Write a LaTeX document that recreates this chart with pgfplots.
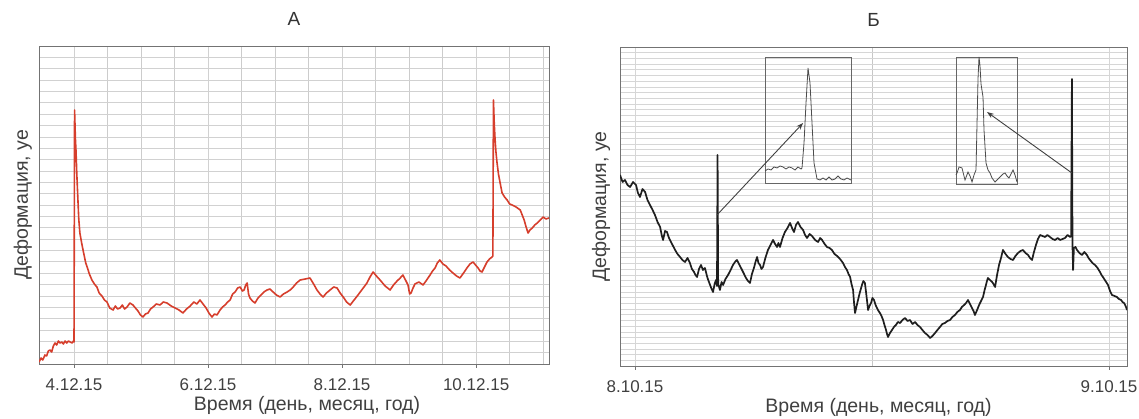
\documentclass[border=0pt]{standalone}
\usepackage{pgfplots}
\pgfplotsset{compat=1.18}
\usepackage{fontspec}
\setmainfont{Liberation Sans}
\usetikzlibrary{arrows.meta}
\definecolor{redline}{RGB}{214,62,44}
\definecolor{inkline}{RGB}{30,30,30}

\pgfplotstableread{
h y
-12.5 2
-11.8 6
-11.2 4
-10.4 9
-9.8 8
-9.2 13
-8.6 14
-8.0 12
-7.4 18
-6.8 21
-6.2 19
-5.6 23
-5.0 21
-4.4 22
-3.8 20
-3.2 23
-2.6 21
-2.0 23
-1.4 22
-0.7 21
-0.2 23
0.0 22
0.2 254
0.5 225
0.7 214
1.0 190
1.4 164
1.7 145
2.1 131
2.8 120
3.6 109
4.2 101
4.7 97
5.5 90
6.4 84
7.3 80
8.2 77
9.0 71
10.0 68
10.9 64
11.8 62
12.8 56
14.0 54
14.8 58
15.6 55
16.5 56
17.3 59
18.1 55
19.0 57
20.0 61
21.1 59
22.0 56
22.9 53
23.8 49
24.7 47
25.6 50
26.5 51
27.4 55
28.3 57
29.5 60
30.8 59
32.0 62
33.3 61
34.8 58
36.2 56
37.6 54
39.0 51
40.3 55
41.6 58
42.9 62
44.0 60
45.1 64
46.2 60
47.3 56
48.3 51
49.4 47
50.3 50
51.2 49
52.3 54
53.2 57
54.1 59
55.0 62
55.9 64
56.8 70
57.7 72
58.6 76
59.5 77
60.3 73
60.9 74
61.5 79
62.0 81
62.5 70
63.0 66
63.9 63
64.8 61
65.9 66
67.0 69
68.0 72
69.1 74
70.2 75
71.3 72
72.5 69
73.8 67
75.0 70
76.3 72
77.4 74
78.5 77
79.7 81
81.0 84
82.8 85
84.5 86
85.8 80
87.0 74
88.1 70
89.2 67
90.4 71
91.7 74
93.0 77
94.2 76
95.3 71
96.4 67
97.6 62
98.9 59
100.3 64
101.7 69
103.3 75
104.9 81
106.0 87
107.1 92
108.3 88
109.6 84
111.4 78
113.2 74
114.4 79
115.7 83
116.8 86
117.8 89
118.7 84
119.6 79
120.2 70
120.7 71
121.4 76
122.1 80
123.5 82
125.0 79
126.3 84
127.5 89
128.4 93
129.3 96
130.1 101
131.0 104
132.1 100
133.2 98
134.5 94
135.7 91
137.0 88
138.2 86
139.5 91
140.7 96
141.8 100
142.9 102
143.8 99
144.7 96
145.4 93
146.1 92
147.0 97
147.9 102
148.8 105
149.7 107
150.0 108
150.2 264
150.5 240
150.8 224
151.1 212
151.5 201
152.0 190
152.6 181
153.3 171
154.2 167
155.1 164
156.0 160
156.9 159
158.3 157
159.8 154
160.5 149
161.2 144
161.9 137
162.6 131
163.3 134
164.1 136
165.0 139
165.9 141
167.0 144
168.0 147
169.0 145
170.1 146
}\dataA

\pgfplotstableread{
h y
-0.76 191
-0.63 184
-0.51 186
-0.38 181
-0.25 179
-0.10 184
0.05 181
0.15 173
0.25 169
0.38 177
0.51 174
0.63 166
0.76 161
0.89 156
1.01 151
1.14 144
1.27 139
1.35 131
1.42 126
1.52 135
1.62 134
1.70 129
1.77 126
1.90 121
2.03 116
2.15 112
2.28 109
2.40 106
2.53 104
2.66 108
2.78 103
2.88 97
2.99 94
3.06 91
3.14 89
3.24 97
3.34 101
3.44 96
3.54 98
3.67 88
3.80 81
3.88 77
3.95 74
4.03 82
4.10 86
4.15 80
4.18 211
4.21 82
4.30 76
4.38 84
4.46 81
4.58 87
4.71 91
4.84 96
4.96 101
5.06 104
5.16 106
5.29 101
5.42 96
5.52 92
5.62 88
5.72 85
5.82 83
5.92 92
6.02 98
6.10 104
6.18 109
6.25 103
6.33 101
6.40 97
6.48 99
6.60 108
6.73 116
6.86 121
6.99 126
7.09 122
7.19 119
7.26 123
7.34 119
7.47 128
7.59 134
7.72 138
7.85 143
7.95 138
8.05 134
8.15 141
8.25 144
8.38 139
8.51 136
8.61 131
8.71 128
8.84 132
8.96 130
9.12 126
9.27 124
9.37 128
9.47 126
9.60 122
9.72 119
9.85 118
9.97 116
10.10 112
10.23 110
10.38 107
10.53 103
10.63 99
10.73 96
10.81 92
10.89 89
10.96 82
11.04 76
11.09 63
11.14 53
11.22 60
11.29 66
11.39 74
11.49 81
11.56 85
11.64 83
11.72 70
11.80 56
11.87 60
11.95 63
12.02 68
12.10 66
12.18 61
12.25 58
12.33 55
12.40 53
12.48 50
12.56 46
12.63 41
12.71 36
12.76 32
12.81 29
12.91 33
13.01 36
13.11 39
13.21 41
13.31 44
13.42 43
13.54 46
13.67 48
13.80 45
13.92 46
14.05 42
14.18 44
14.30 41
14.43 39
14.55 36
14.68 33
14.81 31
14.94 28
15.06 30
15.19 33
15.31 36
15.44 39
15.56 42
15.69 43
15.82 45
15.95 46
16.07 49
16.20 51
16.32 54
16.45 56
16.55 59
16.66 61
16.76 63
16.86 66
16.96 62
17.06 58
17.14 55
17.21 51
17.32 56
17.42 61
17.52 65
17.62 69
17.70 76
17.77 81
17.82 85
17.87 88
17.97 86
18.08 84
18.15 82
18.23 79
18.33 91
18.43 101
18.53 108
18.63 116
18.76 112
18.88 109
19.01 107
19.14 106
19.26 110
19.39 113
19.52 115
19.64 116
19.77 113
19.90 111
20.00 108
20.10 106
20.20 114
20.30 121
20.40 127
20.51 131
20.63 130
20.76 129
20.88 131
21.01 129
21.14 127
21.27 126
21.40 128
21.52 126
21.65 127
21.77 128
21.90 131
22.03 129
22.08 130
22.12 287
22.15 120
22.18 96
22.22 118
22.30 119
22.38 116
22.50 113
22.63 111
22.75 114
22.88 111
22.96 108
23.04 106
23.16 103
23.29 101
23.42 98
23.54 94
23.62 91
23.69 89
23.82 85
23.95 81
24.05 75
24.15 71
24.28 70
24.40 69
24.50 67
24.61 66
24.68 64
24.76 63
24.84 60
24.91 56
}\dataB

\pgfplotstableread{
x y
0 12
3 14
6 13
9 16
12 15
15 17
18 16
21 14
24 16
27 15
30 13
33 16
36 14
37 15
39 40
41 80
43 115
45 100
47 60
49 20
52 4
55 3
58 5
61 3
64 6
67 3
70 4
73 7
76 4
79 3
82 5
86 3
}\insetA

\pgfplotstableread{
x y
0 9
1 11
3 17
6 16
9 4
12 12
14 8
16 2
18 9
20 14
21 60
22 105
23 127
24 118
25 100
27 87
28 54
30 21
32 14
34 11
36 6
39 2
42 5
44 7
47 10
49 11
51 8
53 6
55 10
57 14
59 9
61 2
}\insetB

\pgfplotsset{
  panel/.style={
    scale only axis, anchor=south west,
    axis line style={black!55, line width=0.9pt},
    tick align=outside, xtick pos=bottom, ytick pos=left,
    major tick length=4pt, minor tick length=0pt,
    tick style={black!55, line width=0.8pt},
    ytick style={draw=none},
    yticklabels={},
    grid=both,
    xticklabel style={font=\fontsize{17}{20}\selectfont, text=black!75, anchor=base, yshift=-23pt},
    xlabel style={font=\fontsize{19.5}{23}\selectfont, text=black!75, anchor=base},
    ylabel style={font=\fontsize{19.5}{23}\selectfont, text=black!75, anchor=base},
    title style={font=\fontsize{19}{22}\selectfont, text=black!80, anchor=base},
    xlabel={Время (день, месяц, год)},
    ylabel={Деформация, уе},
    clip=true,
  },
  insetax/.style={
    scale only axis, anchor=south west,
    axis line style={black!60, line width=0.9pt},
    xtick=\empty, ytick=\empty,
    clip=false,
  }
}

\begin{document}
\begin{tikzpicture}
\path[use as bounding box] (0pt,0pt) rectangle (1139pt,419pt);

% ---------- Panel A ----------
\begin{axis}[panel,
  at={(39pt,55pt)}, width=510pt, height=318pt,
  xmin=-12.54, xmax=170.1, ymin=0, ymax=318,
  xtick={0,48,96,144},
  xticklabels={4.12.15,6.12.15,8.12.15,10.12.15},
  minor xtick={12,24,36,60,72,84,108,120,132,156,168},
  ytick distance=11.357,
  major grid style={black!18, line width=0.7pt},
  minor grid style={black!20, line width=0.7pt},
  title={А},
  title style={at={(axis description cs:0.5,1)}, yshift=14pt},
  xlabel style={at={(axis description cs:0.5,0)}, yshift=-46.5pt, xshift=13pt},
  ylabel style={at={(axis description cs:0,0.5)}, yshift=11pt},
]
\addplot[redline, line width=1.6pt, line join=round] table[x=h, y=y] {\dataA};
\end{axis}

% ---------- Panel B ----------
\begin{axis}[panel,
  at={(620pt,53pt)}, width=507pt, height=319pt,
  xmin=-0.76, xmax=24.91, ymin=0, ymax=319,
  xtick={0,24},
  xticklabels={8.10.15,9.10.15},
  minor xtick={12},
  ytick distance=5.696,
  major grid style={black!16, line width=0.6pt},
  minor grid style={black!22, line width=0.7pt},
  title={Б},
  title style={at={(axis description cs:0.5,1)}, yshift=14pt},
  xlabel style={at={(axis description cs:0.5,0)}, yshift=-46.5pt, xshift=5pt},
  ylabel style={at={(axis description cs:0,0.5)}, yshift=14pt},
]
\addplot[inkline, line width=1.7pt, line join=round] table[x=h, y=y] {\dataB};
\coordinate (a1s) at (axis cs:4.15,151);
\coordinate (a1e) at (axis cs:8.51,243);
\coordinate (a2s) at (axis cs:22.12,193);
\coordinate (a2e) at (axis cs:17.82,254);
\end{axis}

% ---------- insets ----------
\begin{axis}[insetax, at={(765pt,236pt)}, width=86pt, height=126pt,
  xmin=0, xmax=86, ymin=0, ymax=126]
\addplot[black!70, line width=0.8pt] table[x=x, y=y] {\insetA};
\end{axis}
\begin{axis}[insetax, at={(956pt,235pt)}, width=61pt, height=127pt,
  xmin=0, xmax=61, ymin=0, ymax=127]
\addplot[black!70, line width=0.8pt] table[x=x, y=y] {\insetB};
\end{axis}

\draw[-{Stealth[length=7pt,width=5pt]}, black!75, line width=0.9pt] (a1s) -- (a1e);
\draw[-{Stealth[length=7pt,width=5pt]}, black!75, line width=0.9pt] (a2s) -- (a2e);
\end{tikzpicture}
\end{document}
